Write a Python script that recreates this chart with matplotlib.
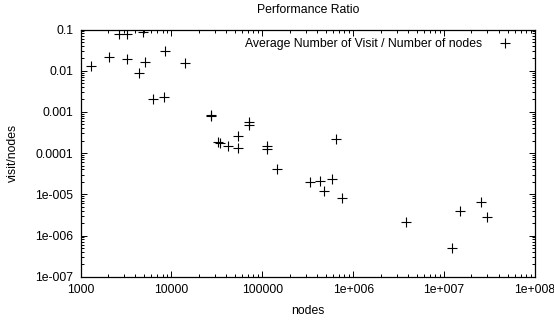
import numpy as np
import matplotlib
matplotlib.use("Agg")
import matplotlib.pyplot as plt
from matplotlib.ticker import FixedLocator, FixedFormatter, LogLocator, NullFormatter

plt.rcParams['font.family'] = ['Liberation Sans', 'DejaVu Sans']

# data
nodes = [1295, 2074, 2630, 3250, 3223, 4831, 4365, 5164, 6324, 8300,
         8430, 14220, 27000, 27600, 32800, 34250, 41600, 53600, 53600, 70800,
         70800, 111700, 111700, 146000, 641000, 335000, 431600, 477800, 589000, 746000,
         3.78e6, 1.21e7, 1.50e7, 2.53e7, 2.98e7]
ratio = [0.0132, 0.0219, 0.0778, 0.0764, 0.0189, 0.0885, 0.00865, 0.0165, 0.00209, 0.00234,
         0.0305, 0.0151, 0.00081, 0.00084, 0.000189, 0.000179, 0.000149, 0.000264, 0.000133, 0.000578,
         0.000481, 0.000151, 0.000124, 4.05e-5, 0.000216, 2.02e-5, 2.10e-5, 1.22e-5, 2.35e-5, 8.0e-6,
         2.09e-6, 5.06e-7, 3.86e-6, 6.6e-6, 2.86e-6]

xticks = [1e3, 1e4, 1e5, 1e6, 1e7, 1e8]
xtick_labels = ["1000", "10000", "100000", "1e+006", "1e+007", "1e+008"]
yticks = [1e-7, 1e-6, 1e-5, 1e-4, 1e-3, 1e-2, 1e-1]
ytick_labels = ["1e-007", "1e-006", "1e-005", "0.0001", "0.001", "0.01", "0.1"]

fs = 8.8

fig = plt.figure(figsize=(5.54, 3.21), dpi=100)
ax = fig.add_axes([80.5 / 554, 1 - 276.7 / 321, 454.5 / 554, 247.2 / 321])

ax.plot(nodes, ratio, linestyle='none', marker='+', color='black',
        markersize=7, markeredgewidth=0.8,
        label="Average Number of Visit / Number of nodes")

ax.set_xscale('log')
ax.set_yscale('log')
ax.set_xlim(1e3, 1e8)
ax.set_ylim(1e-7, 1e-1)

ax.xaxis.set_major_locator(FixedLocator(xticks))
ax.xaxis.set_major_formatter(FixedFormatter(xtick_labels))
ax.yaxis.set_major_locator(FixedLocator(yticks))
ax.yaxis.set_major_formatter(FixedFormatter(ytick_labels))
ax.xaxis.set_minor_locator(LogLocator(base=10, subs=np.arange(2, 10)))
ax.yaxis.set_minor_locator(LogLocator(base=10, subs=np.arange(2, 10)))
ax.xaxis.set_minor_formatter(NullFormatter())
ax.yaxis.set_minor_formatter(NullFormatter())

ax.tick_params(which='both', direction='in', top=True, right=True,
               labelsize=fs, width=0.7, colors='black')
ax.tick_params(which='major', length=4.5)
ax.tick_params(which='minor', length=2.3)
ax.tick_params(axis='x', pad=5)
ax.tick_params(axis='y', pad=5)
for s in ax.spines.values():
    s.set_linewidth(0.9)

ax.set_title("Performance Ratio", fontsize=fs, pad=12)
ax.set_xlabel("nodes", fontsize=fs, labelpad=7)
ax.set_ylabel("visit/nodes", fontsize=fs, labelpad=12)

ax.legend(loc='upper right', bbox_to_anchor=(0.947, 0.966), markerfirst=False,
          frameon=False, fontsize=fs, handlelength=1.0, handletextpad=1.38,
          borderaxespad=0, borderpad=0)

fig.savefig("out.png", dpi=100)
